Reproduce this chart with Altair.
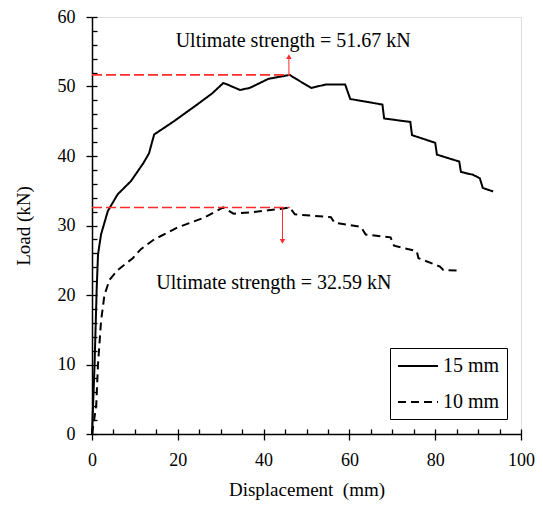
import altair as alt
import pandas as pd

# ---- data ----
x15 = [0, 0.3, 0.6, 1.1, 1.4, 2.1, 3.7, 6.0, 9.1, 12.0, 13.3, 14.0, 14.5, 19.1, 24.5, 28.0,
       30.6, 31.5, 34.5, 36.8, 41.1, 46.1, 47.0, 51.1, 54.6, 59.0, 60.2, 64.0, 67.7, 68.1,
       74.2, 74.6, 80.0, 80.4, 85.6, 86.0, 88.8, 90.4, 91.1, 93.5]
y15 = [0, 5, 10, 21, 25.8, 28.7, 32.1, 34.5, 36.4, 39.0, 40.4, 42.0, 43.1, 45.0, 47.4, 49.0,
       50.5, 50.3, 49.5, 49.8, 51.1, 51.67, 51.3, 49.8, 50.3, 50.3, 48.2, 47.8, 47.4, 45.4,
       44.9, 43.0, 41.9, 40.2, 39.2, 37.7, 37.3, 36.8, 35.4, 34.9]

x10 = [0, 0.5, 1.0, 1.4, 2.1, 2.9, 4.1, 6.0, 9.5, 11.4, 14.5, 19.9, 26.0, 30.6, 33.0, 37.0,
       41.1, 44.2, 46.1, 47.3, 55.7, 56.5, 62.7, 63.8, 69.6, 70.4, 75.7, 76.1, 81.1, 81.9, 85.4]
y10 = [0, 2, 4.3, 10, 16.2, 20, 22.2, 23.6, 25.3, 26.6, 28.0, 29.7, 31.1, 32.6, 31.7, 31.9,
       32.2, 32.4, 32.59, 31.6, 31.2, 30.4, 29.8, 28.7, 28.3, 27.1, 26.3, 25.3, 24.1, 23.6, 23.5]

series = ["15 mm", "10 mm"]
ultimate = [51.67, 32.59]
peak_x = [46.1, 46.1]
arrow_x = [45.9, 44.4]
arrow_tip = [54.3, 27.7]
arrow_shape = ["triangle-up", "triangle-down"]
label_text = ["Ultimate strength = 51.67 kN", "Ultimate strength = 32.59 kN"]
label_x = [46.9, 42.4]
label_y = [56.6, 21.7]

x_major = [0, 20, 40, 60, 80, 100]
x_minor = list(range(0, 101, 5))
y_major = [0, 10, 20, 30, 40, 50, 60]
y_minor = list(range(0, 61, 2))

# ---- tables ----
curves = pd.concat([
    pd.DataFrame({"x": x15, "y": y15, "series": series[0], "order": range(len(x15))}),
    pd.DataFrame({"x": x10, "y": y10, "series": series[1], "order": range(len(x10))}),
])
ult = pd.DataFrame({"x0": [0, 0], "x1": peak_x, "y": ultimate,
                    "ax": arrow_x, "tip": arrow_tip, "shape": arrow_shape,
                    "text": label_text, "tx": label_x, "ty": label_y})

FONT = "Liberation Serif"
W, H = 429, 417
xs = alt.Scale(domain=[0, 100], nice=False)
ys = alt.Scale(domain=[0, 60], nice=False)

lines = alt.Chart(curves).mark_line(color="black", strokeWidth=2).encode(
    x=alt.X("x:Q", scale=xs, axis=alt.Axis(
        values=x_major, orient="bottom", tickSize=6, tickWidth=1.3, tickColor="black",
        domainColor="black", domainWidth=1.5, grid=False, labelFont=FONT, labelFontSize=18,
        labelColor="black", labelPadding=11, labelFlush=False,
        title="Displacement\u00a0 (mm)", titleFont=FONT,
        titleFontSize=19, titleFontWeight="normal", titleColor="black", titlePadding=11)),
    y=alt.Y("y:Q", scale=ys, axis=alt.Axis(
        values=y_major, orient="left", tickSize=6, tickWidth=1.3, tickColor="black",
        domainColor="black", domainWidth=1.5, grid=False, labelFont=FONT, labelFontSize=18,
        labelColor="black", labelPadding=11, labelFlush=False,
        title="Load (kN)", titleFont=FONT,
        titleFontSize=19, titleFontWeight="normal", titleColor="black", titlePadding=24)),
    strokeDash=alt.StrokeDash("series:N", scale=alt.Scale(domain=series, range=[[1, 0], [8, 5]]),
                              legend=alt.Legend(
                                  title=None, orient="none", legendX=298, legendY=331,
                                  symbolType="M-1,0H3", symbolSize=400, symbolStrokeWidth=2,
                                  symbolStrokeColor="black", symbolFillColor="transparent",
                                  labelFont=FONT, labelFontSize=20,
                                  labelColor="black", labelOffset=24, padding=7, rowPadding=15,
                                  strokeColor="black", fillColor="white")),
    order="order:Q",
)

inner_ticks = alt.Chart(curves).mark_point(opacity=0).encode(
    x=alt.X("x:Q", scale=xs, axis=alt.Axis(
        values=x_minor, orient="top", offset=-H, tickSize=5, tickWidth=1.3, tickColor="black",
        labels=False, domain=False, grid=False, title="")),
    y=alt.Y("y:Q", scale=ys, axis=alt.Axis(
        values=y_minor, orient="right", offset=-W, tickSize=5, tickWidth=1.3, tickColor="black",
        labels=False, domain=False, grid=False, title="")),
)

hlines = alt.Chart(ult).mark_rule(color="#ff2a2a", strokeWidth=1.6, strokeDash=[10, 4]).encode(
    x=alt.X("x0:Q", scale=xs, axis=None), x2="x1:Q",
    y=alt.Y("y:Q", scale=ys, axis=None),
)
vlines = alt.Chart(ult).mark_rule(color="#ff2a2a", strokeWidth=1).encode(
    x=alt.X("ax:Q", scale=xs, axis=None),
    y=alt.Y("y:Q", scale=ys, axis=None), y2="tip:Q",
)
heads = alt.Chart(ult).mark_point(filled=True, color="#ff2a2a", size=30, opacity=1).encode(
    x=alt.X("ax:Q", scale=xs, axis=None),
    y=alt.Y("tip:Q", scale=ys, axis=None),
    shape=alt.Shape("shape:N", scale=None),
)
labels = alt.Chart(ult).mark_text(font=FONT, fontSize=20, color="black", align="center",
                                  baseline="middle").encode(
    x=alt.X("tx:Q", scale=xs, axis=None),
    y=alt.Y("ty:Q", scale=ys, axis=None),
    text="text:N",
)

chart = alt.layer(lines, inner_ticks, hlines, vlines, heads, labels).resolve_axis(
    x="independent", y="independent"
).properties(
    width=W, height=H,
    autosize=alt.AutoSizeParams(type="none"),
    padding={"left": 84, "top": 9, "right": 14, "bottom": 67},
).configure_view(stroke="black", strokeWidth=1.5).configure(background="white")

chart.save("out.html", embed_options={"renderer": "svg", "actions": False})
